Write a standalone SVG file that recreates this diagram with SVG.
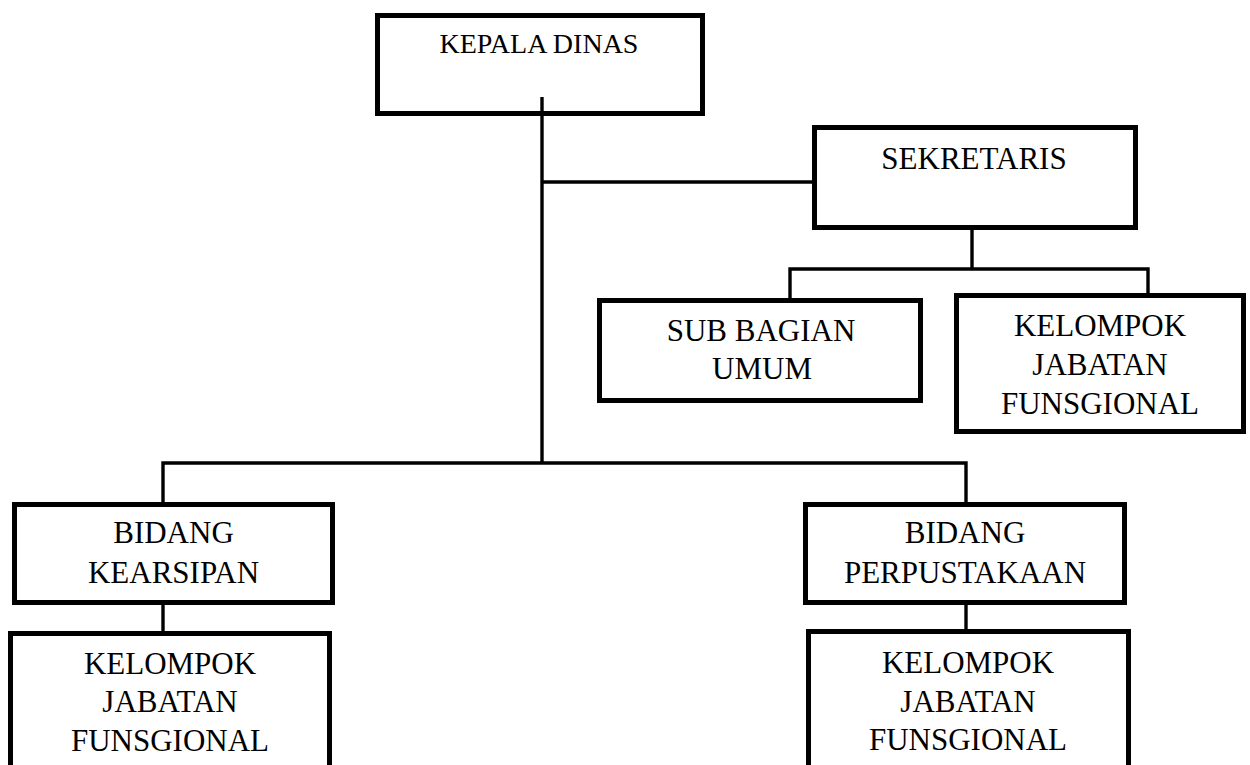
<svg xmlns="http://www.w3.org/2000/svg" width="1250" height="765" viewBox="0 0 1250 765">
<style>
.box{fill:#fff;stroke:#000;stroke-width:5}
.t{font-family:"Liberation Serif","Times New Roman",serif;font-size:31px;fill:#000;text-anchor:middle}
.c{fill:none;stroke:#000;stroke-width:3.4;stroke-linejoin:miter}
</style>
<rect width="1250" height="765" fill="#fff"/>
<g id="connectors">
<path class="c" d="M542 97 V463"/>
<path class="c" d="M542 182 H813"/>
<path class="c" d="M163 502 V463 H966 V502"/>
<path class="c" d="M972 230 V269"/>
<path class="c" d="M790 298 V269 H1148 V293"/>
<path class="c" d="M163 605 V631"/>
<path class="c" d="M966 605 V629"/>
</g>
<g id="kepala-dinas">
<rect class="box" x="377.5" y="15.5" width="325" height="98" style="fill:none"/>
<text class="t" x="539" y="53" style="font-size:28px">KEPALA DINAS</text>
</g>
<g id="sekretaris">
<rect class="box" x="814.5" y="127.5" width="321" height="100"/>
<text class="t" x="974" y="169">SEKRETARIS</text>
</g>
<g id="sub-bagian-umum">
<rect class="box" x="599.5" y="300.5" width="321" height="100"/>
<text class="t" x="761" y="341">SUB BAGIAN</text>
<text class="t" x="762" y="379">UMUM</text>
</g>
<g id="kelompok-sekretariat">
<rect class="box" x="956.5" y="295.5" width="287" height="136"/>
<text class="t" x="1100" y="336">KELOMPOK</text>
<text class="t" x="1100" y="375">JABATAN</text>
<text class="t" x="1100" y="414">FUNSGIONAL</text>
</g>
<g id="bidang-kearsipan">
<rect class="box" x="14.5" y="504.5" width="318" height="98"/>
<text class="t" x="173.5" y="543">BIDANG</text>
<text class="t" x="173.5" y="583">KEARSIPAN</text>
</g>
<g id="bidang-perpustakaan">
<rect class="box" x="805.5" y="504.5" width="319" height="98"/>
<text class="t" x="965" y="543">BIDANG</text>
<text class="t" x="965" y="583">PERPUSTAKAAN</text>
</g>
<g id="kelompok-kearsipan">
<rect class="box" x="10.5" y="633.5" width="319" height="140"/>
<text class="t" x="170" y="674">KELOMPOK</text>
<text class="t" x="170" y="712">JABATAN</text>
<text class="t" x="170" y="751">FUNSGIONAL</text>
</g>
<g id="kelompok-perpustakaan">
<rect class="box" x="808.5" y="631.5" width="320" height="142"/>
<text class="t" x="968" y="673">KELOMPOK</text>
<text class="t" x="968" y="712">JABATAN</text>
<text class="t" x="968" y="750">FUNSGIONAL</text>
</g>
</svg>
